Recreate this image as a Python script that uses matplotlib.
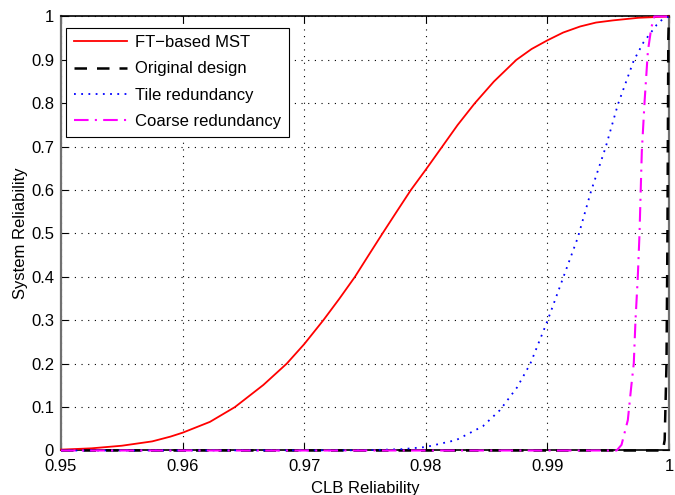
import matplotlib
matplotlib.use("Agg")
import matplotlib.pyplot as plt

plt.rcParams['font.family'] = ['Liberation Sans', 'DejaVu Sans']

# --- datos ---
ft_x = [0.950, 0.9525, 0.955, 0.9575, 0.959, 0.960, 0.96225, 0.9643, 0.96664, 0.96856,
        0.9700, 0.97157, 0.9729, 0.97417, 0.9753, 0.97644, 0.9776, 0.97877, 0.9800, 0.98135,
        0.98262, 0.98403, 0.9856, 0.98745, 0.9887, 0.9900, 0.9913, 0.9927, 0.9940, 0.9954,
        0.9975, 1.0]
ft_y = [0.002, 0.005, 0.011, 0.021, 0.032, 0.041, 0.066, 0.10, 0.151, 0.20,
        0.245, 0.30, 0.35, 0.40, 0.45, 0.50, 0.55, 0.60, 0.647, 0.70,
        0.75, 0.80, 0.85, 0.90, 0.925, 0.945, 0.963, 0.977, 0.986, 0.991,
        0.997, 1.0]

orig_x = [0.95, 0.9995, 0.99965, 0.9998, 0.99988, 0.99995, 1.0]
orig_y = [0.0, 0.0, 0.024, 0.2, 0.5, 0.95, 1.0]

tile_x = [0.95, 0.975, 0.978, 0.980, 0.9825, 0.9847, 0.9861, 0.9875, 0.9886, 0.9900,
          0.9913, 0.9925, 0.9936, 0.9948, 0.9958, 0.9971, 0.9979, 0.9990, 0.99945, 1.0]
tile_y = [0.0, 0.0005, 0.003, 0.008, 0.024, 0.056, 0.093, 0.145, 0.20, 0.298,
          0.398, 0.49, 0.598, 0.699, 0.797, 0.898, 0.94, 0.981, 0.993, 1.0]

coarse_x = [0.95, 0.9957, 0.9961, 0.99662, 0.9969, 0.99711, 0.99725, 0.99744, 0.99758,
            0.99768, 0.99777, 0.998, 0.99827, 0.99855, 0.9988, 1.0]
coarse_y = [0.0, 0.0, 0.013, 0.07, 0.147, 0.201, 0.30, 0.40, 0.499,
            0.60, 0.689, 0.805, 0.92, 0.974, 1.0, 1.0]

x_ticks = [0.95, 0.96, 0.97, 0.98, 0.99, 1.0]
x_labels = ["0.95", "0.96", "0.97", "0.98", "0.99", "1"]
y_ticks = [0.0, 0.1, 0.2, 0.3, 0.4, 0.5, 0.6, 0.7, 0.8, 0.9, 1.0]
y_labels = ["0", "0.1", "0.2", "0.3", "0.4", "0.5", "0.6", "0.7", "0.8", "0.9", "1"]

fig = plt.figure(figsize=(6.75, 4.95), dpi=100)
ax = fig.add_axes([0.0904, 0.0899, 0.9006, 0.8768])

ax.plot(ft_x, ft_y, color="red", linewidth=1.3, label="FT\u2212based MST", clip_on=False, zorder=3)
ax.plot(orig_x, orig_y, color="black", linewidth=1.8, linestyle=(0, (5, 4)), label="Original design",
        clip_on=False, zorder=3)
ax.plot(tile_x, tile_y, color="blue", linewidth=1.3, linestyle=(0, (1, 3)), label="Tile redundancy",
        clip_on=False, zorder=3)
ax.plot(coarse_x, coarse_y, color="magenta", linewidth=1.5, linestyle=(0, (7, 3, 1, 3)),
        label="Coarse redundancy", clip_on=False, zorder=3)

ax.set_xlim(0.95, 1.0)
ax.set_ylim(0, 1)
ax.set_xticks(x_ticks)
ax.set_xticklabels(x_labels)
ax.set_yticks(y_ticks)
ax.set_yticklabels(y_labels)
ax.tick_params(direction="in", length=5, top=True, right=True, labelsize=12)
ax.tick_params(axis="x", pad=6)
ax.tick_params(axis="y", pad=5)
ax.grid(True, color="black", linestyle=(0, (1, 5)), linewidth=0.8)

for side in ["left", "right"]:
    ax.spines[side].set_color("#707070")
    ax.spines[side].set_linewidth(1.6)
for side in ["top", "bottom"]:
    ax.spines[side].set_color("black")
    ax.spines[side].set_linewidth(1.2)

ax.set_xlabel("CLB Reliability", fontsize=12, labelpad=5)
ax.set_ylabel("System Reliability", fontsize=12, labelpad=2)

leg = ax.legend(loc="upper left", bbox_to_anchor=(0.0082, 0.9746), borderaxespad=0,
                fontsize=12, frameon=True, fancybox=False, framealpha=1,
                edgecolor="black", handlelength=3.2, handletextpad=0.5, borderpad=0.45,
                labelspacing=0.68)
leg.get_frame().set_linewidth(0.8)

fig.savefig("out.png", dpi=100)
